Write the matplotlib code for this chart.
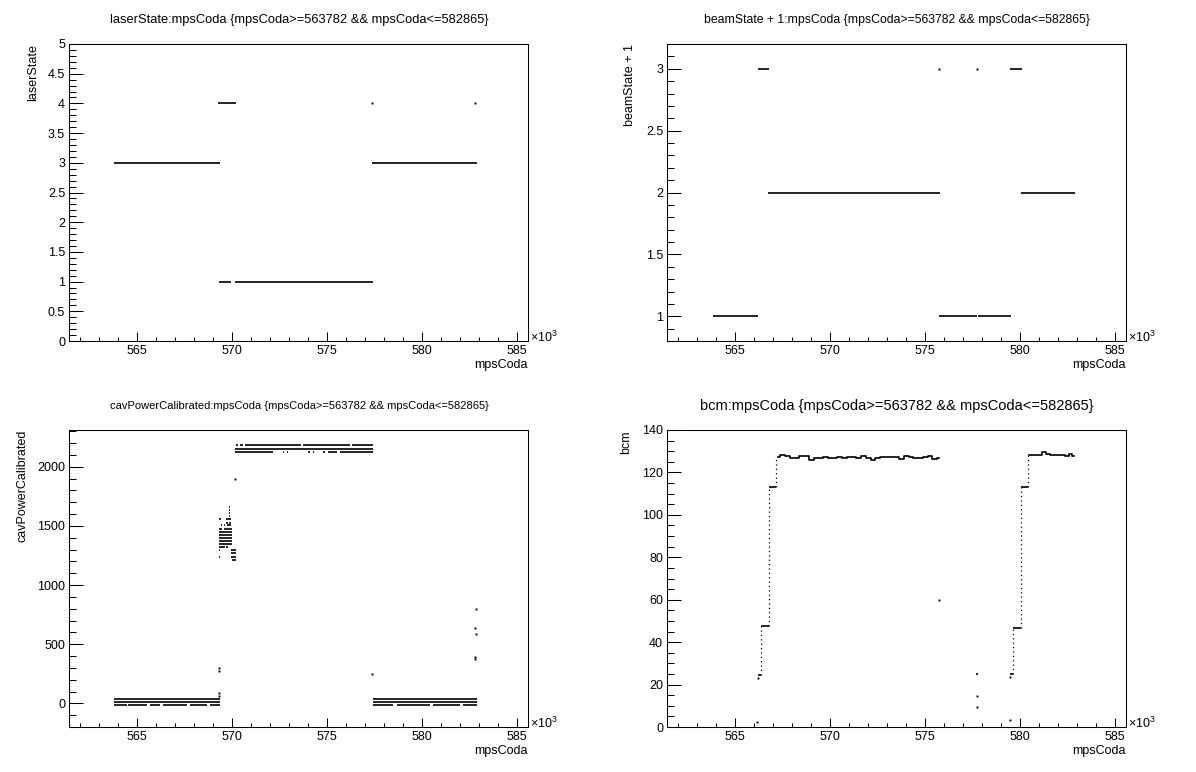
import matplotlib
matplotlib.use('Agg')
import matplotlib.pyplot as plt
from matplotlib.ticker import MultipleLocator, FuncFormatter

# ---------- data (mpsCoda in units of 10^3) ----------
cut = '{mpsCoda>=563782 && mpsCoda<=582865}'

# laserState: horizontal runs (start, end, value) and lone points
laser_x0 = [563.78, 569.24, 569.32, 570.14, 577.35]
laser_x1 = [569.35, 570.18, 569.91, 577.39, 582.86]
laser_y = [3, 4, 1, 1, 3]
laser_pt_x = [577.37, 582.78]
laser_pt_y = [4, 4]

# beamState + 1
beam_x0 = [563.80, 566.18, 566.73, 575.70, 577.77, 579.46, 580.06]
beam_x1 = [566.18, 566.77, 575.76, 577.71, 579.50, 580.10, 582.86]
beam_y = [1, 3, 2, 1, 1, 3, 2]
beam_pt_x = [575.74, 577.73]
beam_pt_y = [3, 3]

# cavPowerCalibrated: solid bands
cav_x0 = [563.78, 563.78, 577.40, 577.40, 570.12]
cav_x1 = [569.35, 569.35, 582.86, 582.86, 577.40]
cav_y = [34, 13, 34, 12, 2152]
# broken bands (pieces)
cav_br_x0 = [563.77, 564.53, 565.67, 566.37, 567.77, 568.82,
             577.42, 578.65, 580.58, 582.16,
             570.14, 572.65, 572.86, 574.00, 574.23, 574.79, 575.05, 575.67,
             570.22, 570.40, 570.65, 573.70, 576.30]
cav_br_x1 = [564.44, 565.49, 566.19, 567.60, 568.65, 569.35,
             578.47, 580.40, 581.98, 582.86,
             572.16, 572.72, 572.93, 574.09, 574.30, 574.88, 575.49, 577.39,
             570.30, 570.55, 573.60, 576.20, 577.39]
cav_br_y = [-17, -17, -17, -17, -17, -17,
            -17, -17, -17, -17,
            2127, 2127, 2127, 2127, 2127, 2127, 2127, 2127,
            2183, 2183, 2183, 2183, 2183]
# transition cluster near 569.3 - 570.2
clu_x0 = [569.83, 569.83, 569.65, 569.83, 569.83,
          569.30, 569.65,
          569.35, 569.50, 569.65, 569.83,
          569.40, 569.55, 569.70,
          569.30, 569.55,
          569.30, 569.30, 569.30, 569.30, 569.30,
          569.30, 569.68,
          569.30, 569.40, 569.55, 569.70, 569.93,
          569.35, 569.93,
          569.30, 569.93,
          569.97]
clu_x1 = [569.86, 569.86, 569.68, 569.86, 569.86,
          569.40, 569.92,
          569.38, 569.53, 569.75, 569.92,
          569.45, 569.60, 569.92,
          569.45, 569.97,
          569.97, 569.97, 569.97, 569.97, 569.97,
          569.60, 569.80,
          569.33, 569.43, 569.58, 569.73, 570.18,
          569.38, 570.18,
          569.33, 570.18,
          570.18]
clu_y = [1656, 1633, 1605, 1605, 1583,
         1555, 1555,
         1527, 1527, 1527, 1527,
         1504, 1504, 1504,
         1470, 1470,
         1445, 1420, 1395, 1369, 1347,
         1322, 1322,
         1293, 1293, 1293, 1293, 1293,
         1268, 1268,
         1240, 1240,
         1209]
cav_pt_x = [570.16, 569.30, 569.31, 569.30, 569.31, 577.37,
            582.82, 582.80, 582.81, 582.79, 582.80]
cav_pt_y = [1893, 296, 273, 85, 62, 245, 794, 634, 586, 394, 377]

# bcm: plateaus
bcm_p1_x = [567.25, 567.50, 567.75, 568.00, 568.25, 568.50, 568.75, 569.00,
            569.25, 569.50, 569.75, 570.00, 570.25, 570.50, 570.75, 571.00,
            571.25, 571.50, 571.75, 572.00, 572.25, 572.50, 572.75, 573.00,
            573.25, 573.50, 573.75, 574.00, 574.25, 574.50, 574.75, 575.00,
            575.25, 575.50, 575.75]
bcm_p1_y = [127.5, 128.0, 127.6, 126.8, 126.6, 127.6, 127.8, 126.0,
            126.8, 127.0, 127.2, 126.8, 127.0, 127.3, 127.0, 127.5,
            127.2, 127.0, 127.8, 127.0, 125.8, 126.6, 127.1, 127.3,
            127.4, 127.2, 126.4, 127.9, 127.2, 126.8, 126.9, 127.3,
            127.6, 126.5, 126.8]
bcm_p2_x = [580.45, 580.65, 580.85, 581.05, 581.25, 581.45, 581.65,
            581.85, 582.05, 582.25, 582.45, 582.65, 582.85]
bcm_p2_y = [128.0, 128.2, 128.0, 128.4, 129.4, 128.6, 128.3,
            128.2, 128.2, 128.0, 127.8, 128.6, 127.8]
# bcm: lower steps (start, end, value)
bcm_s_x0 = [566.18, 566.37, 566.75, 579.46, 579.63, 580.06, 577.66]
bcm_s_x1 = [566.37, 566.75, 567.14, 579.63, 580.02, 580.40, 577.77]
bcm_s_y = [24.5, 47.6, 113.2, 24.8, 46.6, 113.2, 25.0]
# bcm: ramps between steps (x, from, to)
bcm_r_x = [566.37, 566.75, 567.14, 579.63, 580.02, 580.40]
bcm_r_lo = [24.5, 47.6, 113.2, 24.8, 46.6, 113.2]
bcm_r_hi = [47.6, 113.2, 127.5, 46.6, 113.2, 128.0]
bcm_pt_x = [566.16, 566.18, 575.72, 577.70, 577.73, 579.46, 579.45]
bcm_pt_y = [2.2, 23.0, 60.0, 14.4, 9.4, 3.1, 23.5]

# ---------- style ----------
plt.rcParams['font.family'] = ['Liberation Sans', 'DejaVu Sans']
plt.rcParams['mathtext.fontset'] = 'custom'
plt.rcParams['mathtext.rm'] = 'Liberation Sans'
plt.rcParams['axes.linewidth'] = 0.75

W, H = 1196, 772
fig = plt.figure(figsize=(W / 100, H / 100), dpi=100)
fig.patch.set_facecolor('white')

XMIN, XMAX = 561.42, 585.57


def make_axes(col, row, ylim, ymaj, ymin, ylabel, lab_off, title, tsize):
    left = (69.3 + 598 * col) / W
    bottom = (772 - 341 - 386 * row) / H
    ax = fig.add_axes([left, bottom, 458.7 / W, 297 / H])
    ax.set_xlim(XMIN, XMAX)
    ax.set_ylim(*ylim)
    ax.xaxis.set_major_locator(MultipleLocator(5))
    ax.xaxis.set_minor_locator(MultipleLocator(1))
    ax.yaxis.set_major_locator(MultipleLocator(ymaj))
    ax.yaxis.set_minor_locator(MultipleLocator(ymin))
    ax.yaxis.set_major_formatter(FuncFormatter(lambda v, p: '%g' % v))
    ax.xaxis.set_major_formatter(FuncFormatter(lambda v, p: '%g' % v))
    ax.tick_params(which='both', direction='in', top=False, right=False,
                   width=0.75, labelsize=9, pad=3)
    ax.tick_params(axis='x', which='major', length=6.5)
    ax.tick_params(axis='x', which='minor', length=3.2)
    ax.tick_params(axis='y', which='major', length=10)
    ax.tick_params(axis='y', which='minor', length=5)
    ax.set_xlabel('mpsCoda', loc='right', fontsize=9, labelpad=1)
    ax.set_ylabel(ylabel, loc='top', fontsize=9)
    ax.yaxis.set_label_coords(lab_off, 1.0)
    ax.text(1.004, 0.012, r'$\times10^{3}$', transform=ax.transAxes,
            fontsize=9, ha='left', va='center')
    fig.text((299 + 598 * col) / W, 1 - (20 + 386 * row) / H, title,
             ha='center', va='center', fontsize=tsize)
    return ax


LW = 1.2

ax1 = make_axes(0, 0, (0, 5), 0.5, 0.1, 'laserState', -0.066,
                'laserState:mpsCoda ' + cut, 9.3)
ax1.hlines(laser_y, laser_x0, laser_x1, colors='k', lw=LW)
ax1.plot(laser_pt_x, laser_pt_y, 's', ms=1.4, color='k', mec='none')

ax2 = make_axes(1, 0, (0.8, 3.2), 0.5, 0.1, 'beamState + 1', -0.068,
                'beamState + 1:mpsCoda ' + cut, 8.8)
ax2.hlines(beam_y, beam_x0, beam_x1, colors='k', lw=LW)
ax2.plot(beam_pt_x, beam_pt_y, 's', ms=1.4, color='k', mec='none')

ax3 = make_axes(0, 1, (-200, 2310), 500, 100, 'cavPowerCalibrated', -0.09,
                'cavPowerCalibrated:mpsCoda ' + cut, 8.0)
ax3.hlines(cav_y, cav_x0, cav_x1, colors='k', lw=LW)
ax3.hlines(cav_br_y, cav_br_x0, cav_br_x1, colors='k', lw=LW)
ax3.hlines(clu_y, clu_x0, clu_x1, colors='k', lw=LW)
ax3.plot(cav_pt_x, cav_pt_y, 's', ms=1.4, color='k', mec='none')

ax4 = make_axes(1, 1, (0, 140), 20, 5, 'bcm', -0.077,
                'bcm:mpsCoda ' + cut, 10.5)
ax4.plot(bcm_p1_x, bcm_p1_y, drawstyle='steps-mid', color='k', lw=LW)
ax4.plot(bcm_p2_x, bcm_p2_y, drawstyle='steps-mid', color='k', lw=LW)
ax4.hlines(bcm_s_y, bcm_s_x0, bcm_s_x1, colors='k', lw=LW)
ax4.vlines(bcm_r_x, bcm_r_lo, bcm_r_hi, colors='k', lw=0.9,
           linestyles=(0, (1, 2.5)))
ax4.plot(bcm_pt_x, bcm_pt_y, 's', ms=1.4, color='k', mec='none')

fig.savefig('out.png', dpi=100, facecolor='white')
